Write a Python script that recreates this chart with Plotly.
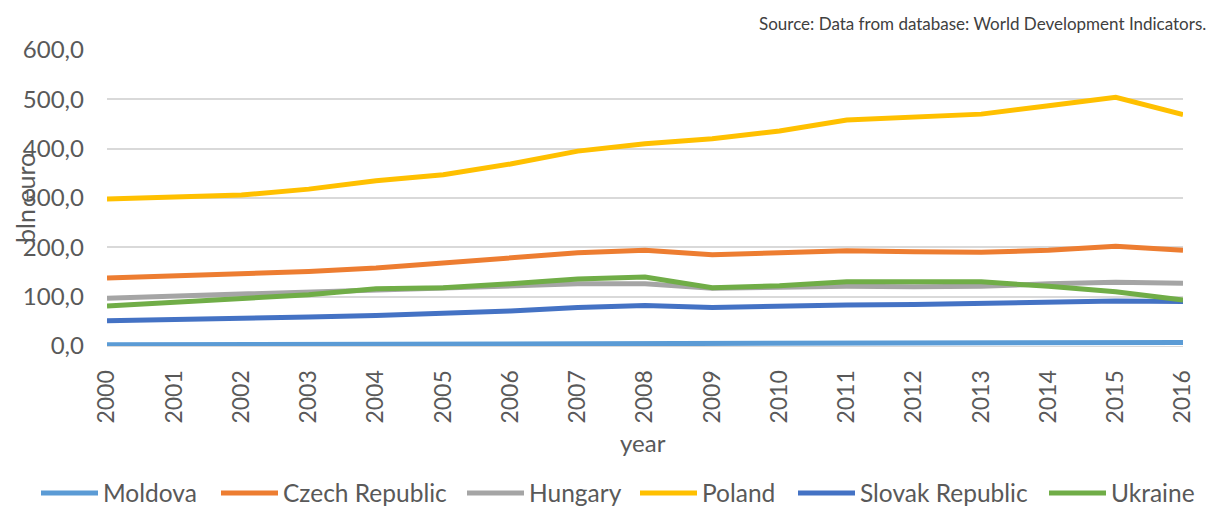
import plotly.graph_objects as go

years = list(range(2000, 2017))
moldova = [2.5, 2.8, 3.1, 3.4, 3.8, 4.0, 4.2, 4.6, 5.0, 5.0, 5.2, 5.8, 6.0, 6.2, 6.8, 7.0, 7.2]
czech = [138, 142, 146, 151, 158, 168, 178, 189, 194, 185, 189, 193, 191, 190, 194, 202, 194]
hungary = [97, 101, 106, 110, 114, 118, 122, 126, 126, 117, 119, 121, 120, 121, 126, 129, 127]
poland = [298, 302, 306, 318, 335, 347, 369, 395, 410, 420, 436, 458, 464, 470, 487, 504, 469]
slovak = [51, 53, 56, 59, 62, 66, 71, 78, 82, 78, 81, 83, 84, 86, 89, 91, 90]
ukraine = [81, 89, 95, 104, 116, 118, 126, 136, 140, 118, 122, 130, 130, 130, 121, 110, 93]

series = [
    ("Moldova", moldova, "#5B9BD5"),
    ("Czech Republic", czech, "#ED7D31"),
    ("Hungary", hungary, "#A5A5A5"),
    ("Poland", poland, "#FFC000"),
    ("Slovak Republic", slovak, "#4472C4"),
    ("Ukraine", ukraine, "#70AD47"),
]
# left edge (px) of each legend entry's line sample
legend_left_px = [42, 222, 468, 641, 799, 1050]

font_fam = "Lato, 'Open Sans', sans-serif"
grey = "#595959"
W, H = 1209, 506
L, R, T, B = 107, 26, 50, 160
pw, ph = W - L - R, H - T - B


def px_x(x):
    return (x - L) / pw


def px_y(y):
    return (H - B - y) / ph


fig = go.Figure()
legends = {}
for i, (name, vals, col) in enumerate(series):
    key = "legend" if i == 0 else f"legend{i + 1}"
    fig.add_trace(go.Scatter(x=years, y=vals, name=name, mode="lines",
                             line=dict(color=col, width=5), legend=key))
    legends[key] = dict(orientation="h", x=px_x(legend_left_px[i] - 6),
                        xanchor="left", y=px_y(493), yanchor="middle",
                        font=dict(size=24.5, color=grey), itemwidth=57,
                        bgcolor="rgba(0,0,0,0)")

fig.update_layout(
    width=W, height=H,
    margin=dict(l=L, r=R, t=T, b=B, autoexpand=False),
    paper_bgcolor="white", plot_bgcolor="white",
    separators=", ",
    font=dict(family=font_fam, size=23, color=grey),
    showlegend=True,
    xaxis=dict(range=[2000, 2016], tickmode="array", tickvals=years,
               ticktext=[str(y) for y in years], tickangle=-90, automargin=False,
               showgrid=False, zeroline=False, showline=True, linecolor="#D9D9D9",
               linewidth=1, ticks="", ticklabelstandoff=14,
               tickfont=dict(size=23, color=grey)),
    yaxis=dict(range=[0, 600], dtick=100, tickformat=".1f", showgrid=True,
               automargin=False,
               gridcolor="#D9D9D9", gridwidth=1.5, zeroline=False, showline=False,
               ticks="", ticklabelstandoff=22, tickfont=dict(size=24, color=grey)),
    annotations=[
        dict(text="bln euro", xref="paper", yref="paper", x=px_x(25),
             y=px_y(198), textangle=-90, showarrow=False,
             xanchor="center", yanchor="middle",
             font=dict(size=25, color=grey)),
        dict(text="year", xref="paper", yref="paper", x=px_x(643),
             y=px_y(442), showarrow=False, xanchor="center", yanchor="middle",
             font=dict(size=24, color=grey)),
        dict(text="Source: Data from database: World Development Indicators.",
             xref="paper", yref="paper", x=px_x(1208), y=px_y(24),
             showarrow=False, xanchor="right", yanchor="middle",
             font=dict(size=17, color="#404040")),
    ],
    **legends,
)

fig.write_html("out.html",
               config={"displayModeBar": False},
               post_script="document.body.style.margin='0';"
                           "document.body.style.overflow='hidden';")
